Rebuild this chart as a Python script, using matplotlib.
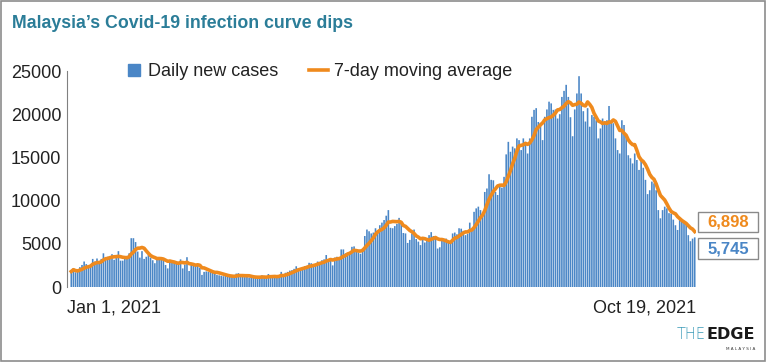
import numpy as np
import pandas as pd
import matplotlib
matplotlib.use('Agg')
import matplotlib.pyplot as plt
from matplotlib.patches import Rectangle
from matplotlib.lines import Line2D

# Daily new cases, Jan 1 - Oct 19, 2021
jan = [1800, 2200, 1700, 1750, 2300, 2550, 2950, 2650, 2450, 2300, 3250, 2950, 3300, 2900, 3250,
       3900, 3350, 3500, 3550, 3800, 3150, 3350, 4150, 3050, 3050, 3350, 3600, 3900, 5650, 5650, 5200]
feb = [4100, 3400, 4150, 3250, 3500, 3700, 3400, 3100, 2750, 3350, 3300, 3400, 3350, 2550, 2150,
       2950, 2900, 2950, 2800, 2900, 3200, 2150, 2600, 3450, 1850, 2550, 2500, 2600]
mar = [2450, 2200, 1400, 1750, 1800, 1750, 1800, 1700, 1650, 1400, 1350, 1300, 1250, 1300, 1200,
       1250, 1200, 1150, 1550, 1600, 1300, 1200, 1150, 1200, 1100, 1150, 1200, 1050, 1100, 1150, 1350]
apr = [1100, 1000, 1500, 1150, 1200, 1250, 1200, 1300, 1750, 1350, 1650, 1750, 1900, 1950, 2100,
       2400, 2150, 2200, 2250, 2400, 2450, 2800, 2750, 2600, 2600, 2950, 2900, 3100, 3200, 3700]
may = [3100, 3350, 2500, 3400, 3500, 3450, 4350, 4350, 3900, 3850, 3950, 4650, 4700, 4100, 4000,
       3850, 4450, 5900, 6650, 6450, 6200, 6300, 6800, 6300, 7150, 7450, 7750, 8250, 8900, 6850, 6800]
jun = [7050, 7300, 8000, 7550, 6250, 6200, 5100, 5450, 6200, 6650, 5550, 5250, 4850, 5500, 5150,
       5600, 6000, 6350, 5900, 5600, 4450, 4600, 5600, 5550, 5600, 5200, 5150, 6200, 6300, 6100]
jul = [6800, 6750, 6500, 6000, 6150, 7450, 6600, 8700, 9100, 9300, 8900, 8300, 11000, 11400, 13050,
       12400, 12350, 11000, 10650, 11600, 11500, 12750, 15350, 16800, 15650, 16250, 16050, 17200,
       17000, 15850, 17200]
aug = [16800, 15450, 17200, 19700, 20500, 20700, 19100, 18750, 17000, 19700, 20550, 21450, 21250,
       20500, 20550, 19500, 20000, 22000, 22700, 23400, 22000, 19650, 17450, 20550, 22400, 24400,
       22400, 20350, 19150, 20700, 18550]
sep = [19900, 19700, 19300, 17200, 18350, 19500, 19150, 19300, 20950, 19150, 18950, 17200, 15850,
       15450, 19300, 18750, 17400, 15250, 14900, 14300, 15450, 14700, 13550, 14900, 13800, 12400,
       10750, 11200, 12200, 12000]
oct_ = [11200, 8900, 7950, 8900, 9300, 9100, 8550, 8500, 7800, 7150, 6600, 7750, 7550, 7400, 7300,
        6000, 5300, 5600, 5745]

daily = np.array(jan + feb + mar + apr + may + jun + jul + aug + sep + oct_)
ma7 = pd.Series(daily).rolling(7, min_periods=1).mean()

yticks = [0, 5000, 10000, 15000, 20000, 25000]
xlabels = ['Jan 1, 2021', 'Oct 19, 2021']
last_ma_label = '6,898'
last_case_label = '5,745'

BLUE = '#4a86c6'
ORANGE = '#ef8a1d'
TEAL = '#2b7d98'
W, H = 767, 362

plt.rcParams['font.family'] = ['Liberation Sans', 'DejaVu Sans']

fig = plt.figure(figsize=(W / 100, H / 100), dpi=100)
ax = fig.add_axes([67 / W, 75 / H, 629 / W, 216 / H])

x = np.arange(len(daily))
bars = ax.bar(x, daily, width=0.75, color=BLUE, linewidth=0)
for b in bars:
    b.set_snap(False)
ax.plot(x, ma7, color=ORANGE, lw=2.6, solid_joinstyle='round')

ax.set_xlim(-0.6, len(daily) - 0.4)
ax.set_ylim(0, 25000)
ax.set_yticks(yticks)
ax.tick_params(axis='y', length=0, pad=4, labelsize=13, labelcolor='#222222')
ax.set_xticks([-2.0, len(daily) - 0.4])
ax.set_xticklabels(xlabels)
ax.tick_params(axis='x', length=0, pad=9, labelsize=13, labelcolor='#222222')
tl = ax.get_xticklabels()
tl[0].set_ha('left')
tl[1].set_ha('right')
for s in ['top', 'right', 'bottom']:
    ax.spines[s].set_visible(False)
ax.spines['left'].set_color('#808080')
ax.spines['left'].set_linewidth(0.8)

# legend
handles = [Line2D([], [], ls='none', marker='s', markersize=9, color=BLUE),
           Line2D([], [], color=ORANGE, lw=2.6)]
fig.legend(handles, ['Daily new cases', '7-day moving average'], loc='center',
           bbox_to_anchor=(318 / W, 1 - 72 / H), ncol=2, frameon=False, fontsize=13,
           handlelength=1.05, handletextpad=0.3, columnspacing=1.7, labelcolor='#222222')

# end-of-series labels
for (top, bot), txt, col in [((212, 232), last_ma_label, ORANGE), ((238, 259), last_case_label, BLUE)]:
    fig.add_artist(Rectangle((698 / W, 1 - bot / H), 60 / W, (bot - top) / H,
                             transform=fig.transFigure, fc='white', ec='#8a8a8a', lw=1))
    fig.text(728 / W, 1 - (top + bot) / 2 / H, txt, ha='center', va='center',
             fontsize=12, fontweight='bold', color=col)

# title
fig.text(12 / W, 1 - 24 / H, 'Malaysia\u2019s Covid-19 infection curve dips', ha='left', va='center',
         fontsize=12.8, fontweight='bold', color=TEAL)

# logo
edge = fig.text(755 / W, 1 - 339 / H, 'EDGE', ha='right', va='baseline', fontsize=11.5,
                color='#1a1a1a', family=['DejaVu Sans'], fontweight='heavy')
fig.canvas.draw()
ex = edge.get_window_extent()
fig.text((ex.x0 - 1) / W, 1 - 339 / H, 'THE', ha='right', va='baseline', fontsize=10.5,
         color='#3a9ab8', family=['DejaVu Sans'], fontweight='light')
fig.text(755 / W, 1 - 350 / H, 'M A L A Y S I A', ha='right', va='baseline', fontsize=3,
         color='#333333', family=['DejaVu Sans'])

# frame around the graphic
fig.add_artist(Rectangle((0.5 / W, 1.5 / H), 764.5 / W, 359.5 / H, transform=fig.transFigure,
                         fill=False, ec='#8c8c8c', lw=1.2))

fig.savefig('out.png', dpi=100)
